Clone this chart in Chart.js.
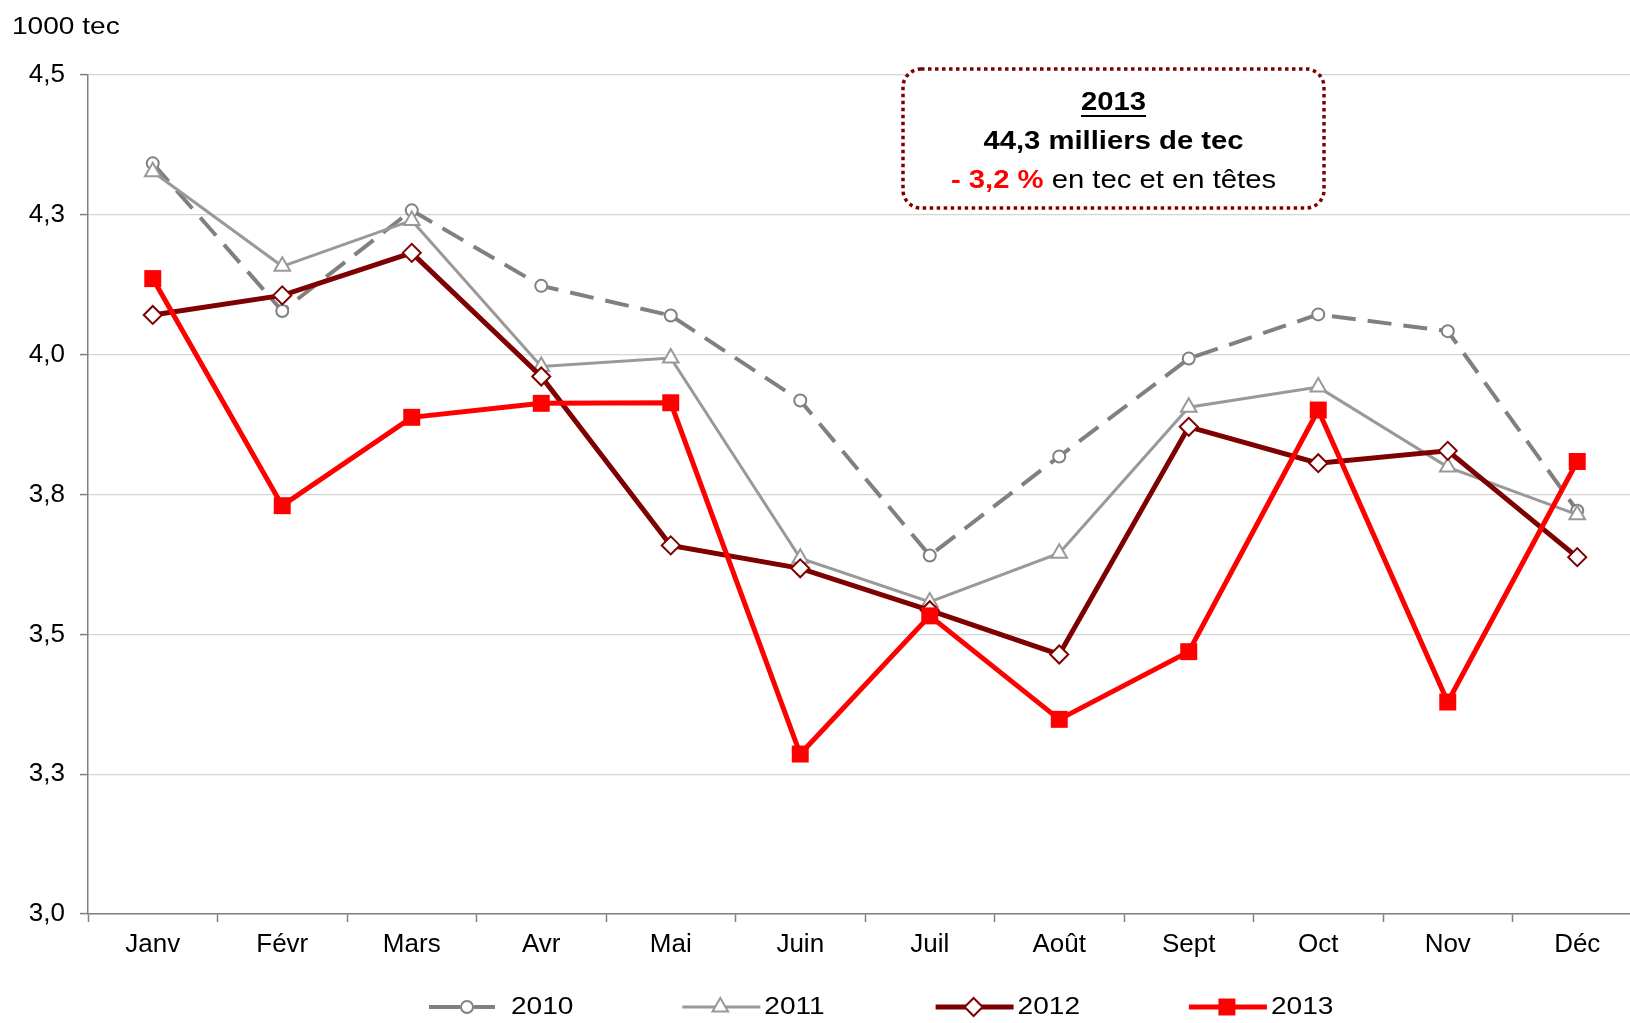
<!DOCTYPE html>
<html>
<head>
<meta charset="utf-8">
<script src="https://cdn.jsdelivr.net/npm/chart.js@4.4.1/dist/chart.umd.min.js"></script>
<style>
  html, body { margin: 0; padding: 0; background: #fff; overflow: hidden; }
  #wrap { position: relative; width: 1630px; height: 1023px; overflow: hidden; }
  canvas { display: block; }
</style>
</head>
<body>
<!-- the canvas is a bit wider than the page: the last category runs past the right edge -->
<div id="wrap"><canvas id="chart" width="1654" height="1023"></canvas></div>
<script>
// monthly volumes, 1000 tec
const months = ["Janv", "Févr", "Mars", "Avr", "Mai", "Juin", "Juil", "Août", "Sept", "Oct", "Nov", "Déc"];
const values2010 = [4.342, 4.078, 4.258, 4.123, 4.070, 3.918, 3.641, 3.818, 3.993, 4.072, 4.042, 3.721];
const values2011 = [4.327, 4.158, 4.240, 3.979, 3.994, 3.636, 3.558, 3.645, 3.906, 3.942, 3.799, 3.714];
const values2012 = [4.071, 4.106, 4.182, 3.961, 3.659, 3.618, 3.543, 3.464, 3.871, 3.806, 3.828, 3.638];
const values2013 = [4.136, 3.730, 3.888, 3.913, 3.914, 3.286, 3.533, 3.348, 3.469, 3.901, 3.379, 3.809];
const yMin = 3.0, yMax = 4.5, yStep = 0.25;

// text of the summary box
const noteYear = "2013";
const noteTotal = "44,3 milliers de tec";
const noteChange = "- 3,2 %";
const noteRest = " en tec et en têtes";

const FONT = "'Liberation Sans', Arial, sans-serif";
const SX = 1.17; // text in the header, box and legend is drawn slightly wide

function wideText(ctx, text, x, y, align) {
  const w = ctx.measureText(text).width * SX;
  let left = x;
  if (align === "center") left = x - w / 2;
  else if (align === "right") left = x - w;
  ctx.save();
  ctx.translate(left, y);
  ctx.scale(SX, 1);
  ctx.textAlign = "left";
  ctx.fillText(text, 0, 0);
  ctx.restore();
  return w;
}

function marker(ctx, ds, x, y) {
  const r = ds.pointRadius;
  ctx.save();
  ctx.fillStyle = ds.pointBackgroundColor;
  ctx.strokeStyle = ds.pointBorderColor;
  ctx.lineWidth = ds.pointBorderWidth;
  ctx.setLineDash([]);
  ctx.beginPath();
  if (ds.pointStyle === "circle") {
    ctx.arc(x, y, r, 0, Math.PI * 2);
  } else if (ds.pointStyle === "triangle") {
    for (let i = 0; i < 3; i++) {
      const a = i * 2 * Math.PI / 3;
      ctx.lineTo(x + Math.sin(a) * r, y - Math.cos(a) * r);
    }
    ctx.closePath();
  } else if (ds.pointStyle === "rectRot") {
    ctx.moveTo(x, y - r); ctx.lineTo(x + r, y); ctx.lineTo(x, y + r); ctx.lineTo(x - r, y);
    ctx.closePath();
  } else {
    const s = r * Math.SQRT1_2;
    ctx.rect(x - s, y - s, 2 * s, 2 * s);
  }
  ctx.fill();
  if (ds.pointBorderWidth > 0) ctx.stroke();
  ctx.restore();
}

const datasets = [
  {
    label: "2010", data: values2010, order: 4,
    borderColor: "#808080", borderWidth: 4, borderDash: [24, 12],
    legendDash: [31, 14, 21, 60],
    pointStyle: "circle", pointRadius: 6, pointBackgroundColor: "#ffffff",
    pointBorderColor: "#808080", pointBorderWidth: 2
  },
  {
    label: "2011", data: values2011, order: 3,
    borderColor: "#999999", borderWidth: 3,
    pointStyle: "triangle", pointRadius: 9, pointBackgroundColor: "#ffffff",
    pointBorderColor: "#999999", pointBorderWidth: 2
  },
  {
    label: "2012", data: values2012, order: 2,
    borderColor: "#7f0000", borderWidth: 5,
    pointStyle: "rectRot", pointRadius: 9, pointBackgroundColor: "#ffffff",
    pointBorderColor: "#7f0000", pointBorderWidth: 2
  },
  {
    label: "2013", data: values2013, order: 1,
    borderColor: "#ff0000", borderWidth: 5,
    pointStyle: "rect", pointRadius: 12, pointBackgroundColor: "#ff0000",
    pointBorderColor: "#ff0000", pointBorderWidth: 0
  }
];

// unit label, summary box and legend
const extras = {
  id: "extras",
  afterDraw(chart) {
    const ctx = chart.ctx;
    ctx.save();
    ctx.textBaseline = "middle";
    ctx.fillStyle = "#000";

    ctx.font = "24px " + FONT;
    wideText(ctx, "1000 tec", 12, 27, "left");

    // summary box
    const bx = 903, by = 69, bw = 421, bh = 139, br = 18;
    ctx.beginPath();
    ctx.moveTo(bx + br, by);
    ctx.arcTo(bx + bw, by, bx + bw, by + bh, br);
    ctx.arcTo(bx + bw, by + bh, bx, by + bh, br);
    ctx.arcTo(bx, by + bh, bx, by, br);
    ctx.arcTo(bx, by, bx + bw, by, br);
    ctx.closePath();
    ctx.fillStyle = "#ffffff";
    ctx.fill();
    ctx.strokeStyle = "#800000";
    ctx.lineWidth = 3.5;
    ctx.setLineDash([3.5, 3.5]);
    ctx.stroke();
    ctx.setLineDash([]);

    const cx = bx + bw / 2;
    ctx.fillStyle = "#000";
    ctx.font = "bold 25px " + FONT;
    const yw = wideText(ctx, noteYear, cx, 103, "center");
    ctx.fillRect(cx - yw / 2, 115, yw, 2);
    wideText(ctx, noteTotal, cx, 142, "center");

    const w1 = ctx.measureText(noteChange).width * SX;
    ctx.font = "25px " + FONT;
    const w2 = ctx.measureText(noteRest).width * SX;
    const left = cx - (w1 + w2) / 2;
    ctx.font = "bold 25px " + FONT;
    ctx.fillStyle = "#ff0000";
    wideText(ctx, noteChange, left, 181, "left");
    ctx.font = "25px " + FONT;
    ctx.fillStyle = "#000";
    wideText(ctx, noteRest, left + w1, 181, "left");

    // legend
    const ly = 1007;
    chart.data.datasets.forEach((ds, i) => {
      const x0 = 429 + i * 253.3;
      ctx.beginPath();
      ctx.strokeStyle = ds.borderColor;
      ctx.lineWidth = ds.borderWidth;
      ctx.setLineDash(ds.legendDash || []);
      ctx.moveTo(x0, ly);
      ctx.lineTo(x0 + 78, ly);
      ctx.stroke();
      ctx.setLineDash([]);
      marker(ctx, ds, x0 + 38, ly);
      ctx.fillStyle = "#000";
      ctx.font = "24px " + FONT;
      wideText(ctx, ds.label, x0 + 82, ly, "left");
    });
    ctx.restore();
  }
};

new Chart(document.getElementById("chart"), {
  type: "line",
  data: { labels: months, datasets: datasets },
  options: {
    responsive: false,
    animation: false,
    devicePixelRatio: 1,
    layout: { padding: { top: 75, right: 0, bottom: 0, left: 0 } },
    plugins: {
      legend: { display: false },
      tooltip: { enabled: false }
    },
    elements: { line: { tension: 0 } },
    scales: {
      x: {
        offset: true,
        grid: {
          offset: true,
          drawOnChartArea: false,
          tickLength: 8,
          tickColor: "#808080",
          tickWidth: 1.5
        },
        border: { color: "#808080", width: 1.5 },
        ticks: { color: "#000", font: { family: FONT, size: 26 }, padding: 7, maxRotation: 0 },
        afterFit(scale) { scale.height = 109; }
      },
      y: {
        min: yMin,
        max: yMax,
        grid: {
          color: "#d4d4d4",
          lineWidth: 1.2,
          tickLength: 8,
          tickColor: "#808080",
          tickWidth: 1.5
        },
        border: { color: "#808080", width: 1.5 },
        ticks: {
          stepSize: yStep,
          color: "#000",
          font: { family: FONT, size: 26 },
          padding: 15,
          callback: v => v.toFixed(1).replace(".", ",")
        },
        afterFit(scale) { scale.width = 88; }
      }
    }
  },
  plugins: [extras]
});
</script>
</body>
</html>
